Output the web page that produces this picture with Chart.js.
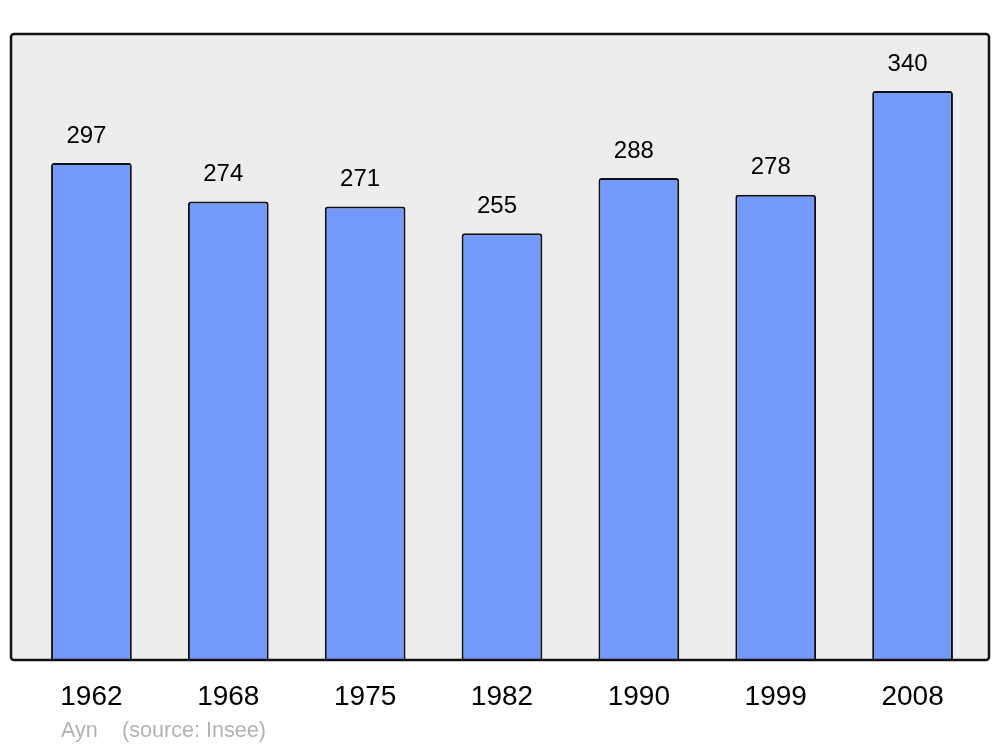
<!DOCTYPE html>
<html>
<head>
<meta charset="utf-8">
<script src="https://cdn.jsdelivr.net/npm/chart.js@4/dist/chart.umd.min.js"></script>
<style>
  html, body { margin: 0; padding: 0; background: #fff; }
  #wrap { width: 1000px; height: 747px; }
</style>
</head>
<body>
<div id="wrap"><canvas id="grafico" width="1000" height="747"></canvas></div>
<script>
// dados
const anos = ["1962", "1968", "1975", "1982", "1990", "1999", "2008"];
const populacao = [297, 274, 271, 255, 288, 278, 340];
const rodape = ["Ayn", "(source: Insee)"];

const fonte = "'Liberation Sans', Arial, sans-serif";

// fundo cinza e moldura arredondada
const moldura = {
    id: "moldura",
    beforeDatasetsDraw(chart) {
        const ctx = chart.ctx;
        ctx.save();
        ctx.beginPath();
        ctx.roundRect(11, 34, 978, 626, 3);
        ctx.fillStyle = "#ededed";
        ctx.fill();
        ctx.restore();
    },
    afterDatasetsDraw(chart) {
        const ctx = chart.ctx;
        ctx.save();
        ctx.beginPath();
        ctx.roundRect(11, 34, 978, 626, 3);
        ctx.lineWidth = 2.5;
        ctx.strokeStyle = "#111";
        ctx.stroke();

        // valores em cima das barras
        const meta = chart.getDatasetMeta(0);
        ctx.fillStyle = "#000";
        ctx.font = "24px " + fonte;
        ctx.textAlign = "center";
        ctx.textBaseline = "middle";
        meta.data.forEach((barra, i) => {
            ctx.fillText(String(populacao[i]), barra.x - 5, barra.y - 27);
        });

        // rodapé
        ctx.fillStyle = "#b3b3b3";
        ctx.font = "21.6px " + fonte;
        ctx.textAlign = "left";
        ctx.fillText(rodape[0], 61, 731);
        ctx.fillText(rodape[1], 122, 731);
        ctx.restore();
    }
};

const config = {
    type: "bar",
    data: {
        labels: anos,
        datasets: [{
            data: populacao,
            backgroundColor: "#7499ff",
            borderColor: "#111",
            borderWidth: 2,
            borderSkipped: "bottom",
            borderRadius: { topLeft: 3, topRight: 3 },
            barPercentage: 0.59,
            categoryPercentage: 1
        }]
    },
    options: {
        responsive: false,
        animation: false,
        layout: { padding: { left: 23, right: 19, top: 34, bottom: 0 } },
        plugins: { legend: { display: false }, tooltip: { enabled: false } },
        scales: {
            x: {
                grid: { display: false, drawTicks: false },
                border: { display: false },
                ticks: {
                    color: "#000",
                    font: { family: fonte, size: 28 },
                    padding: 20,
                    maxRotation: 0
                },
                afterFit(scale) { scale.height = 87; }
            },
            y: {
                display: false,
                min: 0,
                max: 374
            }
        }
    },
    plugins: [moldura]
};

new Chart(document.getElementById("grafico"), config);
</script>
</body>
</html>
